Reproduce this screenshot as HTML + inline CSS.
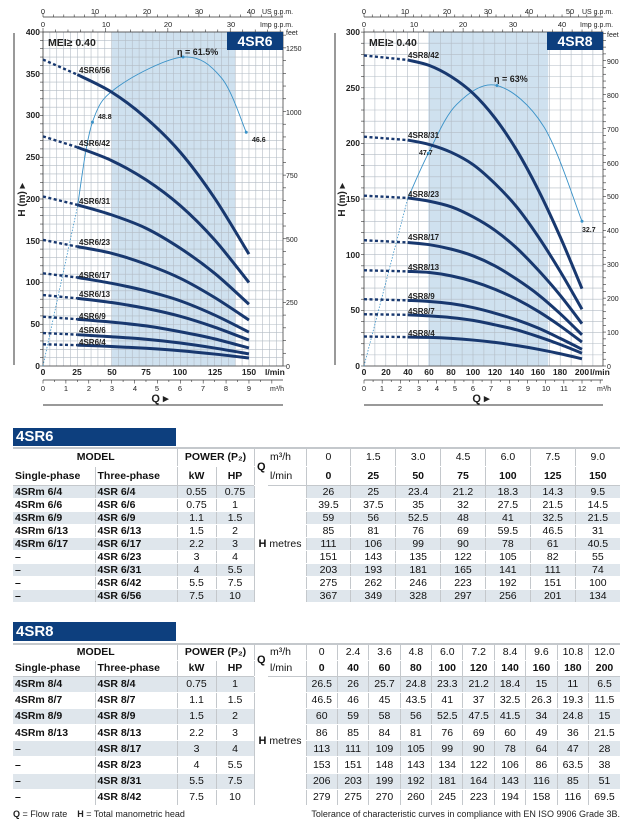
<!DOCTYPE html>
<html><head><meta charset="utf-8">
<style>
body{margin:0;width:632px;height:830px;background:#fff;position:relative;overflow:hidden;font-family:"Liberation Sans Narrow","Liberation Sans",sans-serif;}
svg text{font-family:"Liberation Sans Narrow","Liberation Sans",sans-serif;}
.bar{position:absolute;left:13px;width:163px;background:#0d3f7e;color:#fff;font:bold 15px "Liberation Sans",sans-serif;padding-left:3px;box-sizing:border-box;}
table{position:absolute;left:13px;border-collapse:collapse;table-layout:fixed;font-size:10.5px;color:#111;}
td{padding:0;text-align:center;border-left:1px solid #c4c8cc;border-bottom:1px solid #fff;white-space:nowrap;overflow:hidden;}
td:first-child{border-left:none;text-align:left;padding-left:2px;}
td.l{text-align:left;padding-left:2px;}
tr.h td{font-weight:bold;border-bottom:1px solid #c4c8cc;}
tr.s td{background:#dfe6ec;}
tr.s td.hm,tr td.hm{background:#fff;}
b{font-weight:bold}
.foot{position:absolute;top:809px;font-size:9px;color:#222;}
</style></head><body>
<svg id="sv" width="632" height="410" style="position:absolute;left:0;top:0" xmlns="http://www.w3.org/2000/svg">
<g id="g"></g>
<g font-size="8" fill="#222">
<g text-anchor="end" font-weight="bold" font-size="8.5">
<text x="40" y="369">0</text><text x="40" y="327">50</text><text x="40" y="285">100</text><text x="40" y="244">150</text><text x="40" y="202">200</text><text x="40" y="160">250</text><text x="40" y="118">300</text><text x="40" y="77">350</text><text x="40" y="35">400</text>
</g>
<g text-anchor="middle" font-weight="bold" font-size="8.5">
<text x="43" y="375">0</text><text x="77" y="375">25</text><text x="112" y="375">50</text><text x="146" y="375">75</text><text x="180" y="375">100</text><text x="215" y="375">125</text><text x="249" y="375">150</text>
</g>
<text x="265" y="375" font-weight="bold" font-size="8.5">l/min</text>
<g text-anchor="middle" font-size="7.5">
<text x="43" y="391">0</text><text x="66" y="391">1</text><text x="89" y="391">2</text><text x="112" y="391">3</text><text x="135" y="391">4</text><text x="157" y="391">5</text><text x="180" y="391">6</text><text x="203" y="391">7</text><text x="226" y="391">8</text><text x="249" y="391">9</text>
<text x="43" y="14">0</text><text x="95" y="14">10</text><text x="147" y="14">20</text><text x="199" y="14">30</text><text x="251" y="14">40</text>
<text x="43" y="27">0</text><text x="106" y="27">10</text><text x="168" y="27">20</text><text x="231" y="27">30</text>
</g>
<text x="270" y="391" font-size="7">m³/h</text>
<text x="262" y="14" font-size="7">US g.p.m.</text>
<text x="260" y="27" font-size="7">Imp g.p.m.</text>
<g font-size="7"><text x="286" y="35">feet</text><text x="286" y="51">1250</text><text x="286" y="115">1000</text><text x="286" y="178">750</text><text x="286" y="242">500</text><text x="286" y="305">250</text><text x="286" y="369">0</text></g>
<text x="160" y="402" font-weight="bold" font-size="11" text-anchor="middle">Q ▸</text>
<text transform="translate(25,200) rotate(-90)" font-weight="bold" font-size="10" text-anchor="middle">H (m) ▸</text>
<text x="48" y="46" font-weight="bold" font-size="10.5">MEI≥ 0.40</text>
<text x="177" y="55" font-weight="bold" font-size="9">η = 61.5%</text>
<text x="98" y="119" font-weight="bold" font-size="7">48.8</text>
<text x="252" y="142" font-weight="bold" font-size="7">46.6</text>
<g font-weight="bold" font-size="8">
<text x="79" y="73">4SR6/56</text><text x="79" y="146">4SR6/42</text><text x="79" y="204">4SR6/31</text><text x="79" y="245">4SR6/23</text><text x="79" y="278">4SR6/17</text><text x="79" y="297">4SR6/13</text><text x="79" y="319">4SR6/9</text><text x="79" y="333">4SR6/6</text><text x="79" y="345">4SR6/4</text>
</g>
<g text-anchor="end" font-weight="bold" font-size="8.5">
<text x="360" y="369">0</text><text x="360" y="313">50</text><text x="360" y="258">100</text><text x="360" y="202">150</text><text x="360" y="146">200</text><text x="360" y="91">250</text><text x="360" y="35">300</text>
</g>
<g text-anchor="middle" font-weight="bold" font-size="8.5">
<text x="364" y="375">0</text><text x="386" y="375">20</text><text x="408" y="375">40</text><text x="429" y="375">60</text><text x="451" y="375">80</text><text x="473" y="375">100</text><text x="495" y="375">120</text><text x="517" y="375">140</text><text x="538" y="375">160</text><text x="560" y="375">180</text><text x="582" y="375">200</text>
</g>
<text x="590" y="375" font-weight="bold" font-size="8.5">l/min</text>
<g text-anchor="middle" font-size="7.5">
<text x="364" y="391">0</text><text x="382" y="391">1</text><text x="400" y="391">2</text><text x="419" y="391">3</text><text x="437" y="391">4</text><text x="455" y="391">5</text><text x="473" y="391">6</text><text x="491" y="391">7</text><text x="509" y="391">8</text><text x="528" y="391">9</text><text x="546" y="391">10</text><text x="564" y="391">11</text><text x="582" y="391">12</text>
<text x="364" y="14">0</text><text x="405" y="14">10</text><text x="447" y="14">20</text><text x="488" y="14">30</text><text x="529" y="14">40</text><text x="570" y="14">50</text>
<text x="364" y="27">0</text><text x="414" y="27">10</text><text x="463" y="27">20</text><text x="513" y="27">30</text><text x="562" y="27">40</text>
</g>
<text x="597" y="391" font-size="7">m³/h</text>
<text x="582" y="14" font-size="7">US g.p.m.</text>
<text x="580" y="27" font-size="7">Imp g.p.m.</text>
<g font-size="7"><text x="607" y="37">feet</text><text x="607" y="64">900</text><text x="607" y="98">800</text><text x="607" y="132">700</text><text x="607" y="166">600</text><text x="607" y="199">500</text><text x="607" y="233">400</text><text x="607" y="267">300</text><text x="607" y="301">200</text><text x="607" y="335">100</text><text x="607" y="369">0</text></g>
<text x="481" y="402" font-weight="bold" font-size="11" text-anchor="middle">Q ▸</text>
<text transform="translate(345,200) rotate(-90)" font-weight="bold" font-size="10" text-anchor="middle">H (m) ▸</text>
<text x="369" y="46" font-weight="bold" font-size="10.5">MEI≥ 0.40</text>
<text x="494" y="82" font-weight="bold" font-size="9">η = 63%</text>
<text x="419" y="155" font-weight="bold" font-size="7">47.7</text>
<text x="582" y="232" font-weight="bold" font-size="7">32.7</text>
<g font-weight="bold" font-size="8">
<text x="408" y="58">4SR8/42</text><text x="408" y="138">4SR8/31</text><text x="408" y="197">4SR8/23</text><text x="408" y="240">4SR8/17</text><text x="408" y="270">4SR8/13</text><text x="408" y="299">4SR8/9</text><text x="408" y="314">4SR8/7</text><text x="408" y="336">4SR8/4</text>
</g>
<rect x="227" y="32" width="56" height="18" fill="#0d3f7e"/>
<text x="255" y="46" fill="#fff" font-weight="bold" font-size="14" text-anchor="middle" font-family="Liberation Sans">4SR6</text>
<rect x="547" y="32" width="56" height="18" fill="#0d3f7e"/>
<text x="575" y="46" fill="#fff" font-weight="bold" font-size="14" text-anchor="middle" font-family="Liberation Sans">4SR8</text>
</g>
</svg>

<div class="bar" style="top:428px;height:18px;line-height:18px">4SR6</div>
<table style="top:447px;width:607px">
<colgroup><col style="width:82px"><col style="width:82px"><col style="width:39px"><col style="width:38px"><col style="width:14px"><col style="width:38px"><col span="7" style="width:44.86px"></colgroup>
<tr style="height:18px;border-top:2px solid #c4c8cc"><td colspan="2" style="text-align:center;font-weight:bold">MODEL</td><td colspan="2" style="font-weight:bold">POWER (P₂)</td><td rowspan="2" style="font-weight:bold;font-size:11px">Q</td><td class="l" style="border-left:none">m³/h</td><td>0</td><td>1.5</td><td>3.0</td><td>4.5</td><td>6.0</td><td>7.5</td><td>9.0</td></tr>
<tr class="h" style="height:19px"><td>Single-phase</td><td class="l">Three-phase</td><td>kW</td><td>HP</td><td class="l" style="font-weight:normal;border-left:none">l/min</td><td>0</td><td>25</td><td>50</td><td>75</td><td>100</td><td>125</td><td>150</td></tr>
<tr class="s" style="height:12.6px"><td><b>4SRm 6/4</b></td><td class="l"><b>4SR 6/4</b></td><td>0.55</td><td>0.75</td><td colspan="2" rowspan="9" class="hm" style="text-align:left;padding-left:4px"><b style="font-size:11px">H</b> metres</td><td>26</td><td>25</td><td>23.4</td><td>21.2</td><td>18.3</td><td>14.3</td><td>9.5</td></tr>
<tr style="height:12.6px"><td><b>4SRm 6/6</b></td><td class="l"><b>4SR 6/6</b></td><td>0.75</td><td>1</td><td>39.5</td><td>37.5</td><td>35</td><td>32</td><td>27.5</td><td>21.5</td><td>14.5</td></tr>
<tr class="s" style="height:12.6px"><td><b>4SRm 6/9</b></td><td class="l"><b>4SR 6/9</b></td><td>1.1</td><td>1.5</td><td>59</td><td>56</td><td>52.5</td><td>48</td><td>41</td><td>32.5</td><td>21.5</td></tr>
<tr style="height:12.6px"><td><b>4SRm 6/13</b></td><td class="l"><b>4SR 6/13</b></td><td>1.5</td><td>2</td><td>85</td><td>81</td><td>76</td><td>69</td><td>59.5</td><td>46.5</td><td>31</td></tr>
<tr class="s" style="height:12.6px"><td><b>4SRm 6/17</b></td><td class="l"><b>4SR 6/17</b></td><td>2.2</td><td>3</td><td>111</td><td>106</td><td>99</td><td>90</td><td>78</td><td>61</td><td>40.5</td></tr>
<tr style="height:12.6px"><td><b>–</b></td><td class="l"><b>4SR 6/23</b></td><td>3</td><td>4</td><td>151</td><td>143</td><td>135</td><td>122</td><td>105</td><td>82</td><td>55</td></tr>
<tr class="s" style="height:12.6px"><td><b>–</b></td><td class="l"><b>4SR 6/31</b></td><td>4</td><td>5.5</td><td>203</td><td>193</td><td>181</td><td>165</td><td>141</td><td>111</td><td>74</td></tr>
<tr style="height:12.6px"><td><b>–</b></td><td class="l"><b>4SR 6/42</b></td><td>5.5</td><td>7.5</td><td>275</td><td>262</td><td>246</td><td>223</td><td>192</td><td>151</td><td>100</td></tr>
<tr class="s" style="height:12.6px;border-bottom:1px solid #c4c8cc"><td><b>–</b></td><td class="l"><b>4SR 6/56</b></td><td>7.5</td><td>10</td><td>367</td><td>349</td><td>328</td><td>297</td><td>256</td><td>201</td><td>134</td></tr>
</table>

<div class="bar" style="top:622px;height:19px;line-height:19px">4SR8</div>
<table style="top:643px;width:607px">
<colgroup><col style="width:82px"><col style="width:82px"><col style="width:39px"><col style="width:38px"><col style="width:14px"><col style="width:38px"><col span="10" style="width:31.4px"></colgroup>
<tr style="height:16px;border-top:2px solid #c4c8cc"><td colspan="2" style="text-align:center;font-weight:bold">MODEL</td><td colspan="2" style="font-weight:bold">POWER (P₂)</td><td rowspan="2" style="font-weight:bold;font-size:11px">Q</td><td class="l" style="border-left:none">m³/h</td><td>0</td><td>2.4</td><td>3.6</td><td>4.8</td><td>6.0</td><td>7.2</td><td>8.4</td><td>9.6</td><td>10.8</td><td>12.0</td></tr>
<tr class="h" style="height:16px"><td>Single-phase</td><td class="l">Three-phase</td><td>kW</td><td>HP</td><td class="l" style="font-weight:normal;border-left:none">l/min</td><td>0</td><td>40</td><td>60</td><td>80</td><td>100</td><td>120</td><td>140</td><td>160</td><td>180</td><td>200</td></tr>
<tr class="s" style="height:16.2px"><td><b>4SRm 8/4</b></td><td class="l"><b>4SR 8/4</b></td><td>0.75</td><td>1</td><td colspan="2" rowspan="8" class="hm" style="text-align:left;padding-left:4px"><b style="font-size:11px">H</b> metres</td><td>26.5</td><td>26</td><td>25.7</td><td>24.8</td><td>23.3</td><td>21.2</td><td>18.4</td><td>15</td><td>11</td><td>6.5</td></tr>
<tr style="height:16.2px"><td><b>4SRm 8/7</b></td><td class="l"><b>4SR 8/7</b></td><td>1.1</td><td>1.5</td><td>46.5</td><td>46</td><td>45</td><td>43.5</td><td>41</td><td>37</td><td>32.5</td><td>26.3</td><td>19.3</td><td>11.5</td></tr>
<tr class="s" style="height:16.2px"><td><b>4SRm 8/9</b></td><td class="l"><b>4SR 8/9</b></td><td>1.5</td><td>2</td><td>60</td><td>59</td><td>58</td><td>56</td><td>52.5</td><td>47.5</td><td>41.5</td><td>34</td><td>24.8</td><td>15</td></tr>
<tr style="height:16.2px"><td><b>4SRm 8/13</b></td><td class="l"><b>4SR 8/13</b></td><td>2.2</td><td>3</td><td>86</td><td>85</td><td>84</td><td>81</td><td>76</td><td>69</td><td>60</td><td>49</td><td>36</td><td>21.5</td></tr>
<tr class="s" style="height:16.2px"><td><b>–</b></td><td class="l"><b>4SR 8/17</b></td><td>3</td><td>4</td><td>113</td><td>111</td><td>109</td><td>105</td><td>99</td><td>90</td><td>78</td><td>64</td><td>47</td><td>28</td></tr>
<tr style="height:16.2px"><td><b>–</b></td><td class="l"><b>4SR 8/23</b></td><td>4</td><td>5.5</td><td>153</td><td>151</td><td>148</td><td>143</td><td>134</td><td>122</td><td>106</td><td>86</td><td>63.5</td><td>38</td></tr>
<tr class="s" style="height:16.2px"><td><b>–</b></td><td class="l"><b>4SR 8/31</b></td><td>5.5</td><td>7.5</td><td>206</td><td>203</td><td>199</td><td>192</td><td>181</td><td>164</td><td>143</td><td>116</td><td>85</td><td>51</td></tr>
<tr style="height:16.2px;border-bottom:1px solid #c4c8cc"><td><b>–</b></td><td class="l"><b>4SR 8/42</b></td><td>7.5</td><td>10</td><td>279</td><td>275</td><td>270</td><td>260</td><td>245</td><td>223</td><td>194</td><td>158</td><td>116</td><td>69.5</td></tr>
</table>
<div class="foot" style="left:13px"><b>Q</b> = Flow rate &nbsp;&nbsp; <b>H</b> = Total manometric head</div>
<div class="foot" style="right:12px">Tolerance of characteristic curves in compliance with EN ISO 9906 Grade 3B.</div>

<script>
(function(){
var g=document.getElementById("g"),s="";
function L(x1,y1,x2,y2,c,w,d){s+='<line x1="'+x1+'" y1="'+y1+'" x2="'+x2+'" y2="'+y2+'" stroke="'+c+'" stroke-width="'+w+'"'+(d?' stroke-dasharray="'+d+'"':'')+'/>';}
function chart(o){
 var X=function(q){return o.x0+q*o.kx},Y=function(h){return 366-h*o.ky};
 s+='<rect x="'+o.x0+'" y="32" width="'+(o.x1-o.x0)+'" height="334" fill="#fff"/>';
 s+='<rect x="'+X(o.s0)+'" y="32" width="'+(X(o.s1)-X(o.s0))+'" height="334" fill="#cfe1ef"/>';
 for(var q=0;X(q)<=o.x1+0.1;q+=o.gx)L(X(q),32,X(q),366,"#b3bcc5",0.6);
 for(var h=0;Y(h)>=31.9;h+=10)L(o.x0,Y(h),o.x1,Y(h),"#b3bcc5",0.6);
 s+='<rect x="'+o.x0+'" y="32" width="'+(o.x1-o.x0)+'" height="334" fill="none" stroke="#444" stroke-width="0.8"/>';
 for(h=0;Y(h)>=31.9;h+=10)L(o.x0-3,Y(h),o.x0,Y(h),"#333",0.6);
 for(var f=0;f*0.3048*o.ky<=334;f+=o.ft)L(o.x1,Y(f*0.3048),o.x1+3,Y(f*0.3048),"#333",0.6);
 L(o.x0,17,o.x1,17,"#333",0.8);
 for(var u=0;X(u*3.785)<=o.x1;u+=2)L(X(u*3.785),17,X(u*3.785),u%10?14.5:13,"#333",0.6);
 for(u=0;X(u*4.546)<=o.x1;u+=2)L(X(u*4.546),32,X(u*4.546),u%10?29.5:28,"#333",0.6);
 L(o.x0,380,o.x1,380,"#333",0.8);
 for(var m=0;X(m*16.667)<=o.x1;m+=0.5)L(X(m*16.667),380,X(m*16.667),m%1?382:383.5,"#333",0.6);
 L(o.x0,405,o.x1,405,"#333",1);
 L(o.x0-29,33,o.x0-29,365,"#333",1);
 var e=o.eff;
 s+='<line x1="'+X(0)+'" y1="'+Y(0)+'" x2="'+X(e[0][0])+'" y2="'+Y(e[0][1])+'" stroke="#3a92c8" stroke-width="0.8" stroke-dasharray="1.5,1.5"/>';
 s+='<path d="'+smooth(e.map(function(a){return[X(a[0]),Y(a[1])]}))+'" fill="none" stroke="#3a92c8" stroke-width="0.9"/>';
 [e[1],e[3],e[e.length-1]].forEach(function(a){s+='<circle cx="'+X(a[0])+'" cy="'+Y(a[1])+'" r="1.5" fill="#3a92c8"/>';});
 o.data.forEach(function(r){
  var pts=o.q.map(function(q,i){return[X(q),Y(r[i])]});
  L(X(0),Y(r[0]),X(o.q[1]),Y(r[1]),"#18386f",2.4,"3,2.5");
  s+='<path d="'+smooth(pts.slice(1))+'" fill="none" stroke="#18386f" stroke-width="3"/>';
 });
}
function smooth(P){var d="M"+P[0][0]+","+P[0][1];for(var i=0;i<P.length-1;i++){var p0=P[i-1]||P[i],p1=P[i],p2=P[i+1],p3=P[i+2]||p2;d+=" C"+(p1[0]+(p2[0]-p0[0])/6)+","+(p1[1]+(p2[1]-p0[1])/6)+" "+(p2[0]-(p3[0]-p1[0])/6)+","+(p2[1]-(p3[1]-p1[1])/6)+" "+p2[0]+","+p2[1];}return d;}
chart({x0:43,x1:283,kx:1.373,ky:0.835,s0:50,s1:140,gx:5,ft:50,q:[0,25,50,75,100,125,150],
 eff:[[25,190],[36,292],[55,335],[102,370],[130,345],[148,280]],
 data:[[26,25,23.4,21.2,18.3,14.3,9.5],[39.5,37.5,35,32,27.5,21.5,14.5],[59,56,52.5,48,41,32.5,21.5],[85,81,76,69,59.5,46.5,31],[111,106,99,90,78,61,40.5],[151,143,135,122,105,82,55],[203,193,181,165,141,111,74],[275,262,246,223,192,151,100],[367,349,328,297,256,201,134]]});
chart({x0:364,x1:603,kx:1.09,ky:1.113,s0:59,s1:169,gx:10,ft:20,q:[0,40,60,80,100,120,140,160,180,200],
 eff:[[40,150],[59,191],[85,235],[122,252],[165,215],[200,130]],
 data:[[26.5,26,25.7,24.8,23.3,21.2,18.4,15,11,6.5],[46.5,46,45,43.5,41,37,32.5,26.3,19.3,11.5],[60,59,58,56,52.5,47.5,41.5,34,24.8,15],[86,85,84,81,76,69,60,49,36,21.5],[113,111,109,105,99,90,78,64,47,28],[153,151,148,143,134,122,106,86,63.5,38],[206,203,199,192,181,164,143,116,85,51],[279,275,270,260,245,223,194,158,116,69.5]]});
g.innerHTML=s;
})();
</script>
</body></html>
